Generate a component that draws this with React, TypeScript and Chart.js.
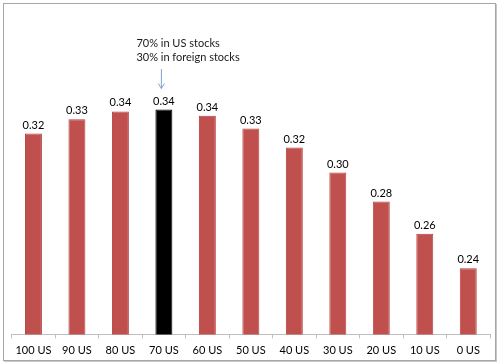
import React, { useEffect, useRef } from "react";
import { Chart, registerables } from "chart.js";

Chart.register(...registerables);

const categories = ["100 US", "90 US", "80 US", "70 US", "60 US", "50 US", "40 US", "30 US", "20 US", "10 US", "0 US"];
const values = [0.3246, 0.3335, 0.3383, 0.3395, 0.3356, 0.3277, 0.3159, 0.3004, 0.2824, 0.2625, 0.241];
const highlightIndex = 3;
const annotationLines = ["70% in US stocks", "30% in foreign stocks"];
const yMin = 0.2;
const yMax = 0.4;

const FONT = "Lato, 'Open Sans', sans-serif";

export default function App() {
  const ref = useRef<HTMLCanvasElement | null>(null);

  useEffect(() => {
    document.body.style.margin = "0";
    const canvas = ref.current;
    if (!canvas) return;

    const labelPlugin = {
      id: "labels",
      afterDatasetsDraw(chart: any) {
        const ctx = chart.ctx;
        const meta = chart.getDatasetMeta(0);
        ctx.save();
        ctx.font = `11px ${FONT}`;
        ctx.fillStyle = "#000";
        ctx.textAlign = "center";
        ctx.textBaseline = "alphabetic";
        meta.data.forEach((el: any, i: number) => {
          ctx.fillText(values[i].toFixed(2), el.x, el.y - 5);
        });
        // annotation
        const el = meta.data[highlightIndex];
        const ax = el.x - 2.5;
        ctx.textAlign = "left";
        ctx.fillStyle = "#1a1a1a";
        ctx.textBaseline = "middle";
        annotationLines.forEach((t, k) => {
          ctx.fillText(t, el.x - 27.5, 43.5 + k * 14.4);
        });
        const yEnd = el.y - 21;
        ctx.strokeStyle = "#7ea2d2";
        ctx.lineWidth = 1;
        ctx.beginPath();
        ctx.moveTo(ax, 69);
        ctx.lineTo(ax, yEnd);
        ctx.moveTo(ax - 3, yEnd - 5);
        ctx.lineTo(ax, yEnd);
        ctx.lineTo(ax + 3, yEnd - 5);
        ctx.stroke();
        ctx.restore();
      },
    };

    const chart = new Chart(canvas, {
      type: "bar",
      data: {
        labels: categories,
        datasets: [
          {
            data: values,
            backgroundColor: values.map((_, i) => (i === highlightIndex ? "#000000" : "#C0504D")),
            borderColor: values.map((_, i) => (i === highlightIndex ? "#000000" : "#B4413E")),
            borderWidth: 1,
            barPercentage: 0.39,
            categoryPercentage: 1,
          },
        ],
      },
      options: {
        animation: false,
        responsive: false,
        maintainAspectRatio: false,
        layout: { padding: { left: 11.7, right: 10, top: 12, bottom: 1.4 } },
        plugins: { legend: { display: false }, tooltip: { enabled: false } },
        scales: {
          y: { display: false, min: yMin, max: yMax },
          x: {
            offset: true,
            grid: {
              offset: true,
              drawOnChartArea: false,
              drawTicks: true,
              tickLength: 4,
              color: "#BFBFBF",
            },
            border: { display: true, color: "#BFBFBF" },
            ticks: {
              padding: 5,
              color: "#000",
              font: { family: FONT, size: 11 },
              maxRotation: 0,
              autoSkip: false,
            },
          },
        },
      },
      plugins: [labelPlugin],
    });
    return () => chart.destroy();
  }, []);

  return (
    <div style={{ position: "relative", width: 500, height: 363, background: "#fff" }}>
      <div
        style={{
          position: "absolute",
          left: 3,
          top: 3,
          width: 491,
          height: 356,
          border: "1px solid #A6A6A6",
          boxShadow: "1px 1px 0 #C8C8C8",
        }}
      />
      <canvas ref={ref} width={500} height={363} style={{ position: "absolute", left: 0, top: 0 }} />
    </div>
  );
}
